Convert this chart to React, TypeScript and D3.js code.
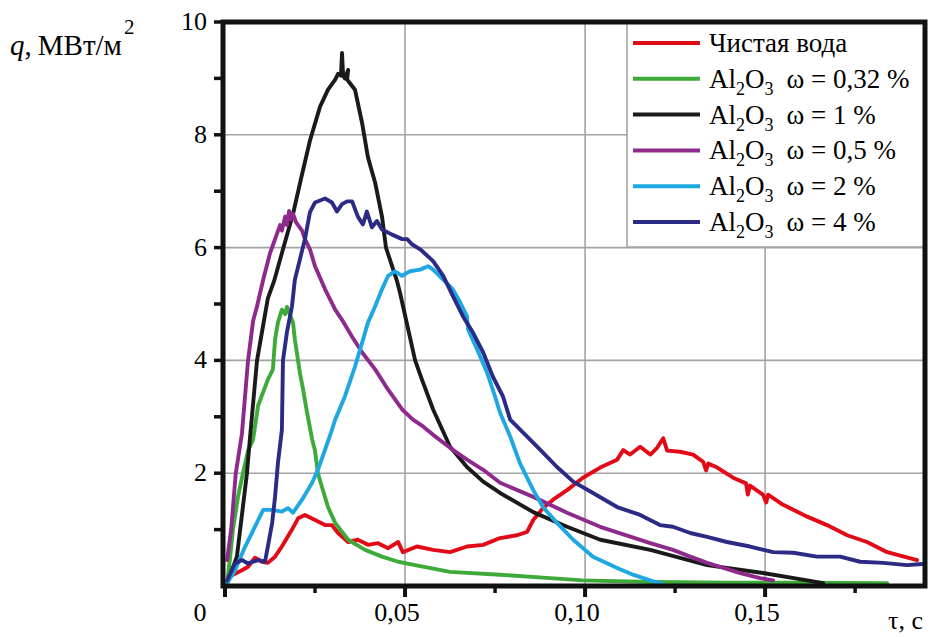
import React from "react";
import * as d3 from "d3";

type P = [number, number];

// τ, s  /  q, MW/m²
const pureWater: P[] = [
  [0.0022, 0.2], [0.0047, 0.28], [0.0064, 0.34], [0.0083, 0.5], [0.0103, 0.43], [0.0119, 0.41],
  [0.0139, 0.52], [0.0158, 0.7], [0.0186, 1.0], [0.0203, 1.2], [0.0222, 1.26], [0.025, 1.17],
  [0.0278, 1.08], [0.0297, 1.08], [0.0314, 0.94], [0.0342, 0.78], [0.0369, 0.82], [0.0397, 0.73],
  [0.0425, 0.76], [0.0453, 0.67], [0.0481, 0.78], [0.0494, 0.6], [0.0533, 0.7], [0.0578, 0.64],
  [0.0625, 0.6], [0.0672, 0.7], [0.0717, 0.73], [0.0764, 0.85], [0.0811, 0.9], [0.0839, 0.96],
  [0.0856, 1.17], [0.0883, 1.38], [0.0911, 1.53], [0.095, 1.7], [0.0994, 1.92], [0.1042, 2.1],
  [0.1089, 2.24], [0.1106, 2.41], [0.1125, 2.33], [0.1153, 2.47], [0.1181, 2.33], [0.12, 2.45],
  [0.1217, 2.62], [0.1228, 2.4], [0.1264, 2.38], [0.13, 2.33], [0.1328, 2.2], [0.1336, 2.05],
  [0.1342, 2.17], [0.1367, 2.1], [0.1411, 1.92], [0.1447, 1.82], [0.1452, 1.62], [0.1458, 1.78],
  [0.1494, 1.62], [0.1503, 1.48], [0.1508, 1.62], [0.155, 1.44], [0.1617, 1.23], [0.1672, 1.08],
  [0.1728, 0.9], [0.1783, 0.78], [0.1839, 0.6], [0.1922, 0.46],
];

const al032: P[] = [
  [0.0008, 0.16], [0.0014, 0.5], [0.0022, 1.0], [0.0036, 1.58], [0.005, 2.0], [0.0064, 2.4],
  [0.0078, 2.6], [0.0092, 3.2], [0.0119, 3.66], [0.0133, 3.84], [0.0139, 4.37], [0.0147, 4.67],
  [0.0158, 4.9], [0.0167, 4.82], [0.0172, 4.95], [0.0189, 4.67], [0.0194, 4.37], [0.0208, 3.78],
  [0.0217, 3.48], [0.0228, 3.07], [0.0242, 2.6], [0.025, 2.4], [0.0258, 2.0], [0.0269, 1.76],
  [0.0286, 1.4], [0.0306, 1.12], [0.0342, 0.82], [0.0389, 0.64], [0.0436, 0.52], [0.0481, 0.43],
  [0.0528, 0.37], [0.0625, 0.25], [0.0764, 0.2], [0.0903, 0.14], [0.0994, 0.1], [0.1181, 0.07],
  [0.14, 0.06], [0.16, 0.06], [0.1839, 0.05],
];

const al1: P[] = [
  [0.0, 0.0], [0.0006, 0.05], [0.0033, 0.52], [0.0061, 2.0], [0.0069, 2.6], [0.0089, 4.0],
  [0.0119, 5.1], [0.0136, 5.4], [0.0161, 5.97], [0.0189, 6.6], [0.0214, 7.3], [0.0236, 7.9],
  [0.0264, 8.5], [0.0286, 8.8], [0.0306, 8.98], [0.0314, 9.08], [0.0322, 9.05], [0.0325, 9.45],
  [0.0328, 9.05], [0.0333, 9.0], [0.0342, 9.15], [0.0339, 8.98], [0.0361, 8.8], [0.0381, 8.2],
  [0.0397, 7.6], [0.0417, 7.15], [0.0436, 6.55], [0.0447, 6.0], [0.0478, 5.4], [0.0486, 5.2],
  [0.0528, 4.0], [0.0547, 3.66], [0.0578, 3.13], [0.0625, 2.47], [0.0672, 2.11], [0.0717, 1.85],
  [0.0764, 1.65], [0.0856, 1.31], [0.095, 1.05], [0.1042, 0.82], [0.1181, 0.64], [0.1339, 0.37],
  [0.1494, 0.23], [0.1617, 0.1], [0.1661, 0.05],
];

const al05: P[] = [
  [0.0006, 0.46], [0.0017, 1.0], [0.003, 2.0], [0.0047, 2.7], [0.0064, 4.0], [0.0078, 4.7],
  [0.0089, 4.96], [0.0106, 5.43], [0.0125, 5.9], [0.0139, 6.15], [0.0153, 6.4], [0.0158, 6.3],
  [0.0167, 6.55], [0.0172, 6.4], [0.0178, 6.65], [0.0183, 6.5], [0.0189, 6.6], [0.0197, 6.45],
  [0.0214, 6.3], [0.0222, 6.15], [0.0236, 5.97], [0.025, 5.67], [0.0278, 5.26], [0.0306, 4.9],
  [0.0325, 4.72], [0.0353, 4.42], [0.0381, 4.14], [0.0417, 3.84], [0.0453, 3.48], [0.0492, 3.13],
  [0.0522, 2.95], [0.055, 2.83], [0.0578, 2.68], [0.0625, 2.45], [0.0672, 2.24], [0.0717, 2.06],
  [0.0764, 1.83], [0.0856, 1.58], [0.095, 1.3], [0.1042, 1.05], [0.1181, 0.76], [0.1244, 0.64],
  [0.1292, 0.52], [0.1339, 0.41], [0.1431, 0.23], [0.1486, 0.14], [0.1522, 0.1],
];

const al2: P[] = [
  [0.0006, 0.05], [0.0028, 0.28], [0.0056, 0.7], [0.0083, 1.05], [0.0106, 1.35], [0.0131, 1.35],
  [0.0158, 1.32], [0.0175, 1.38], [0.0189, 1.3], [0.0214, 1.53], [0.0242, 1.83], [0.0258, 2.06],
  [0.0278, 2.42], [0.0297, 2.77], [0.0306, 2.95], [0.0333, 3.36], [0.0361, 3.89], [0.0381, 4.32],
  [0.0397, 4.67], [0.0417, 4.96], [0.0436, 5.26], [0.0453, 5.5], [0.0472, 5.58], [0.0492, 5.5],
  [0.0508, 5.56], [0.0514, 5.58], [0.0542, 5.61], [0.0564, 5.67], [0.0578, 5.61], [0.0606, 5.43],
  [0.0633, 5.26], [0.0653, 5.03], [0.0672, 4.78], [0.0675, 4.55], [0.07, 4.2], [0.0728, 3.78],
  [0.075, 3.36], [0.0764, 3.07], [0.0792, 2.65], [0.0819, 2.18], [0.0856, 1.7], [0.0883, 1.4],
  [0.0922, 1.12], [0.0967, 0.82], [0.1022, 0.52], [0.1089, 0.32], [0.1133, 0.2], [0.1181, 0.1],
  [0.1217, 0.03],
];

const al4: P[] = [
  [0.0006, 0.1], [0.0028, 0.4], [0.0047, 0.46], [0.0064, 0.4], [0.0092, 0.46], [0.0111, 0.43],
  [0.0119, 0.7], [0.0131, 1.12], [0.0139, 1.58], [0.0147, 2.18], [0.0158, 2.77], [0.0161, 4.0],
  [0.0172, 4.5], [0.0186, 4.96], [0.0194, 5.43], [0.0208, 5.79], [0.0222, 6.15], [0.0236, 6.63],
  [0.025, 6.8], [0.0278, 6.87], [0.0297, 6.8], [0.0311, 6.64], [0.0325, 6.77], [0.0339, 6.82],
  [0.0353, 6.82], [0.0369, 6.55], [0.0383, 6.41], [0.0394, 6.64], [0.0408, 6.36], [0.0422, 6.47],
  [0.0436, 6.32], [0.0464, 6.23], [0.0492, 6.15], [0.0506, 6.15], [0.0519, 6.06], [0.0542, 5.97],
  [0.0578, 5.76], [0.0606, 5.5], [0.0633, 5.14], [0.0661, 4.78], [0.0689, 4.49], [0.0717, 4.14],
  [0.0744, 3.71], [0.0772, 3.36], [0.0792, 2.95], [0.0828, 2.72], [0.0875, 2.42], [0.0922, 2.11],
  [0.0967, 1.85], [0.1022, 1.65], [0.1089, 1.4], [0.1153, 1.26], [0.1208, 1.08], [0.1244, 1.05],
  [0.1292, 0.94], [0.1339, 0.87], [0.1394, 0.78], [0.1458, 0.7], [0.1522, 0.6], [0.1578, 0.59],
  [0.1644, 0.52], [0.1708, 0.52], [0.1764, 0.43], [0.1828, 0.41], [0.1894, 0.37], [0.1936, 0.39],
];

const seriesData: P[][] = [pureWater, al032, al1, al05, al2, al4];
const seriesColors = ["#e30a17", "#3daa3a", "#1a1a1a", "#8e2a8c", "#1ea7e1", "#2b2a85"];
const legendConc = ["", "0,32 %", "1 %", "0,5 %", "2 %", "4 %"];
const pureWaterLabel = "Чистая вода";

const xMajorTicks = [0, 0.05, 0.1, 0.15];
const xMinorTicks = [0.025, 0.075, 0.125, 0.175];
const xTickLabels = ["0", "0,05", "0,10", "0,15"];
const xGrid = [0.05, 0.1, 0.15];
const yMajorTicks = [2, 4, 6, 8, 10];
const yMinorTicks = [1, 3, 5, 7, 9];
const yGrid = [2, 4, 6, 8];

const FONT = "'Liberation Serif', 'Times New Roman', Times, serif";

export default function App() {
  const L = 225, R = 925, T = 22, B = 586;
  const x = d3.scaleLinear().domain([0, 0.1944]).range([L, R]);
  const y = d3.scaleLinear().domain([0, 10]).range([B, T]);
  const line = d3.line<P>().x((d) => x(d[0])).y((d) => y(d[1]));
  const gridColor = "#a3a3a3";
  const legX = 627, legY = T, legW = R - 627, legH = 247 - T;
  const rowY = (i: number) => 43 + i * 35.8;
  const ts: React.CSSProperties = { fontFamily: FONT };

  return (
    <svg width={952} height={637} style={{ position: "absolute", left: 0, top: 0, background: "#fff", fontFamily: FONT }}>
      <rect x={0} y={0} width={952} height={637} fill="#fff" />
      {xGrid.map((v) => (
        <line key={"gx" + v} x1={x(v)} x2={x(v)} y1={T} y2={B} stroke={gridColor} strokeWidth={1.6} />
      ))}
      {yGrid.map((v) => (
        <line key={"gy" + v} x1={L} x2={R} y1={y(v)} y2={y(v)} stroke={gridColor} strokeWidth={1.6} />
      ))}
      {seriesData.map((d, i) => (
        <path key={"s" + i} d={line(d) || ""} fill="none" stroke={seriesColors[i]} strokeWidth={3.9}
          strokeLinejoin="round" strokeLinecap="round" />
      ))}
      {/* legend */}
      <rect x={legX} y={legY} width={legW} height={legH} fill="#fff" stroke={gridColor} strokeWidth={1.6} />
      {seriesColors.map((c, i) => (
        <g key={"lg" + i}>
          <line x1={633} x2={700} y1={rowY(i)} y2={rowY(i)} stroke={c} strokeWidth={4} />
          {i === 0 ? (
            <text x={709} y={rowY(i) + 9} fontSize={27} style={ts}>{pureWaterLabel}</text>
          ) : (
            <text x={709} y={rowY(i) + 9} fontSize={27} style={ts}>
              Al<tspan fontSize={18} dy={7}>2</tspan><tspan dy={-7}>O</tspan>
              <tspan fontSize={18} dy={7}>3</tspan>
              <tspan dy={-7} dx={13}>{"ω = " + legendConc[i]}</tspan>
            </text>
          )}
        </g>
      ))}
      {/* frame */}
      <rect x={223} y={T} width={R - 223} height={B - T} fill="none" stroke="#111" strokeWidth={5} />
      {/* ticks */}
      {xMajorTicks.map((v) => (
        <line key={"xt" + v} x1={x(v)} x2={x(v)} y1={B} y2={B + 11} stroke="#111" strokeWidth={4} />
      ))}
      {xMinorTicks.map((v) => (
        <line key={"xm" + v} x1={x(v)} x2={x(v)} y1={B} y2={B + 7} stroke="#111" strokeWidth={3.5} />
      ))}
      {yMajorTicks.concat(yMinorTicks).map((v) => (
        <line key={"yt" + v} x1={214} x2={223} y1={y(v)} y2={y(v)} stroke="#111" strokeWidth={3.5} />
      ))}
      {xMajorTicks.map((v, i) => (
        <text key={"xl" + v} x={i === 0 ? 200 : x(v) - 8} y={621} fontSize={26} textAnchor="middle" style={ts}>
          {xTickLabels[i]}
        </text>
      ))}
      {yMajorTicks.map((v) => (
        <text key={"yl" + v} x={207} y={y(v) + 8} fontSize={26} textAnchor="end" style={ts}>{v}</text>
      ))}
      {/* axis titles */}
      <text x={10} y={55} fontSize={29} style={ts}>
        <tspan fontStyle="italic">q</tspan>,<tspan dx={6}>МВт/м</tspan><tspan fontSize={21} dy={-21} dx={2}>2</tspan>
      </text>
      <text x={888} y={629} fontSize={26} style={ts}>τ, с</text>
    </svg>
  );
}
